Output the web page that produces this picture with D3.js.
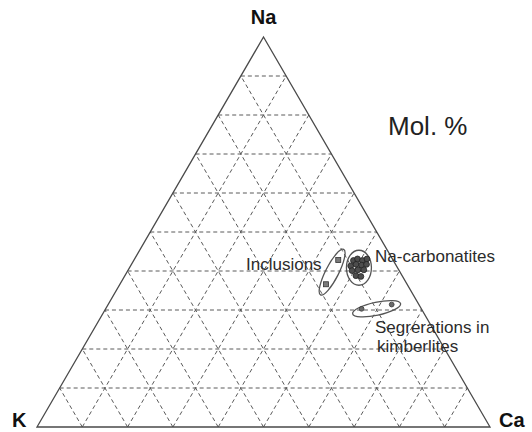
<!DOCTYPE html>
<html>
<head>
<meta charset="utf-8">
<script src="https://cdn.jsdelivr.net/npm/d3@7"></script>
<style>
  html, body { margin: 0; padding: 0; background: #fff; }
  svg { display: block; }
  text { font-family: "Liberation Sans", Arial, sans-serif; }
</style>
</head>
<body>
<svg id="chart" width="532" height="432"></svg>
<script>
// Ternary Na–K–Ca (mol. %) compositions
const apexLabels = ["Na", "K", "Ca"];
const gridSteps = [10, 20, 30, 40, 50, 60, 70, 80, 90];

// Na-carbonatites: [Na, K, Ca]
const naCarbonatites = [
  [42.7, 8.8, 48.5], [43.1, 7.7, 49.2], [42.7, 6.8, 50.5], [43.1, 5.6, 51.3],
  [41.3, 10.1, 48.6], [41.7, 8.7, 49.6], [41.5, 7.6, 50.9], [41.7, 6.4, 51.9],
  [40.1, 10.4, 49.5], [40.3, 9.0, 50.7], [40.3, 7.7, 52.0],
  [38.8, 10.2, 51.0], [38.6, 9.2, 52.2]
];
// Inclusions: [Na, K, Ca]
const inclusions = [
  [42.8, 12.1, 45.1], [36.6, 17.9, 45.5]
];
// Segregations in kimberlites: [Na, K, Ca]
const segregations = [
  [30.3, 13.2, 56.5], [31.4, 6.0, 62.6]
];

const svg = d3.select("#chart");

// Na runs from the base (0) to the apex (100); horizontal position from Ca + Na/2
const yScale = d3.scaleLinear().domain([0, 100]).range([427, 37]);
const xScale = d3.scaleLinear().domain([0, 100]).range([37, 490]);

function project(na, k, ca) {
  const s = na + k + ca;
  const n = na / s * 100, c = ca / s * 100;
  return [xScale(c + n / 2), yScale(n)];
}

const pK = project(0, 100, 0), pCa = project(0, 0, 100), pNa = project(100, 0, 0);

// Dashed grid: lines of constant Na, constant Ca and constant K
const gridG = svg.append("g")
  .attr("fill", "none")
  .attr("stroke", "#5a5a5a")
  .attr("stroke-width", 1)
  .attr("stroke-dasharray", "4,3");

gridSteps.forEach(v => {
  const r = 100 - v;
  // constant Na
  let a = project(v, r, 0), b = project(v, 0, r);
  gridG.append("line").attr("x1", a[0]).attr("y1", a[1]).attr("x2", b[0]).attr("y2", b[1]);
  // constant Ca
  a = project(0, r, v); b = project(r, 0, v);
  gridG.append("line").attr("x1", a[0]).attr("y1", a[1]).attr("x2", b[0]).attr("y2", b[1]);
  // constant K
  a = project(0, v, r); b = project(r, v, 0);
  gridG.append("line").attr("x1", a[0]).attr("y1", a[1]).attr("x2", b[0]).attr("y2", b[1]);
});

// Triangle frame
svg.append("path")
  .attr("d", d3.line()([pK, pCa, pNa]) + "Z")
  .attr("fill", "none")
  .attr("stroke", "#4a4a4a")
  .attr("stroke-width", 1.3)
  .attr("stroke-linejoin", "miter");

// Field outlines around each group
function field(points, rx, ry, angle, dy) {
  const pts = points.map(p => project(p[0], p[1], p[2]));
  const cx = d3.mean(pts, p => p[0]);
  const cy = d3.mean(pts, p => p[1]) + (dy || 0);
  svg.append("ellipse")
    .attr("cx", cx).attr("cy", cy)
    .attr("rx", rx).attr("ry", ry)
    .attr("transform", `rotate(${angle},${cx},${cy})`)
    .attr("fill", "none")
    .attr("stroke", "#555")
    .attr("stroke-width", 1.3);
}
field(inclusions, 25.5, 6.5, -63, 0);
field(naCarbonatites, 12.5, 17.5, 0, 1.5);
field(segregations, 24.5, 6.5, -12, 2);

// Data marks
svg.append("g").selectAll("circle")
  .data(naCarbonatites)
  .join("circle")
  .attr("cx", d => project(...d)[0])
  .attr("cy", d => project(...d)[1])
  .attr("r", 2.9)
  .attr("fill", "#4d4d4d")
  .attr("stroke", "#222")
  .attr("stroke-width", 0.8);

svg.append("g").selectAll("rect")
  .data(inclusions)
  .join("rect")
  .attr("x", d => project(...d)[0] - 2.5)
  .attr("y", d => project(...d)[1] - 2.5)
  .attr("width", 5).attr("height", 5)
  .attr("fill", "#7a7a7a")
  .attr("stroke", "#333")
  .attr("stroke-width", 0.8);

svg.append("g").selectAll("circle")
  .data(segregations)
  .join("circle")
  .attr("cx", d => project(...d)[0])
  .attr("cy", d => project(...d)[1])
  .attr("r", 2.4)
  .attr("fill", "#6a6a6a")
  .attr("stroke", "#333")
  .attr("stroke-width", 0.8);

// Apex labels
svg.append("text").text(apexLabels[0])
  .attr("x", pNa[0]).attr("y", 24)
  .attr("text-anchor", "middle")
  .attr("font-size", 20).attr("font-weight", "bold").attr("fill", "#111");
svg.append("text").text(apexLabels[1])
  .attr("x", 12).attr("y", 427)
  .attr("font-size", 20).attr("font-weight", "bold").attr("fill", "#111");
svg.append("text").text(apexLabels[2])
  .attr("x", 499).attr("y", 427)
  .attr("font-size", 20).attr("font-weight", "bold").attr("fill", "#111");

// Units and group labels
svg.append("text").text("Mol. %")
  .attr("x", 388).attr("y", 135)
  .attr("font-size", 26).attr("fill", "#222");

const labelG = svg.append("g").attr("font-size", 17).attr("fill", "#2b2b2b");
labelG.append("text").text("Inclusions").attr("x", 246).attr("y", 270);
labelG.append("text").text("Na-carbonatites").attr("x", 375).attr("y", 262);
labelG.append("text").text("Segrerations in").attr("x", 375).attr("y", 333);
labelG.append("text").text("kimberlites").attr("x", 377).attr("y", 352);
</script>
</body>
</html>
